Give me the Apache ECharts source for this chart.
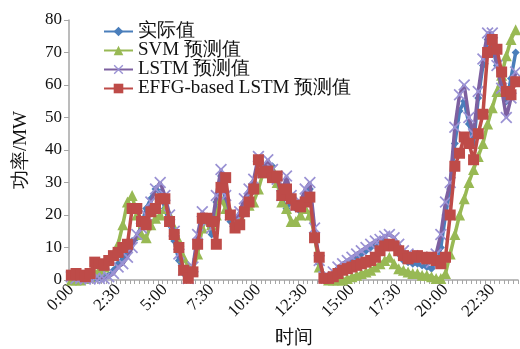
<!DOCTYPE html>
<html>
<head>
<meta charset="utf-8">
<script src="https://cdn.jsdelivr.net/npm/echarts@6/dist/echarts.min.js"></script>
<style>
  html, body { margin: 0; padding: 0; background: #fff; }
  #chart { width: 520px; height: 349px; }
</style>
</head>
<body>
<div id="chart"></div>
<script>
// 15-minute time slots over one day (96 points)
const times = [];
for (let h = 0; h < 24; h++) {
  for (let m = 0; m < 60; m += 15) {
    times.push(h + ':' + (m === 0 ? '00' : String(m)));
  }
}

const seriesNames = ['实际值', 'SVM 预测值', 'LSTM 预测值', 'EFFG-based LSTM 预测值'];

// Measured power (MW)
const actual = [
  0.5, 0.5, 0.3, 0.2, 0.3, 0.5, 0.8, 1, 1.5, 3,
  5, 7, 9, 12, 13, 17, 22, 25, 28, 27,
  22, 17, 12, 6, 2, 0.5, 3, 12, 20, 18,
  14, 24, 32, 24, 18, 17, 20, 24, 27, 30,
  36, 35, 33, 35, 30, 25, 22, 24, 22, 21,
  26, 28, 14, 5, 0.3, 0.5, 1.5, 3, 4, 5,
  6, 7, 8, 9, 10, 11, 12, 12.5, 11.5, 10,
  8, 6, 5.5, 5, 5, 4.5, 4, 3.5, 5, 10,
  20, 28, 42, 52, 55, 48, 42, 56, 66, 74,
  72, 66, 62, 55, 62, 70
];

// SVM forecast (MW)
const svm = [
  0, 0, 0, 0.5, 1, 2, 3, 4, 6, 8,
  11, 17, 24, 26, 20, 14, 13, 17, 19, 20,
  22, 20, 16, 12, 7, 4, 3, 8, 16, 19,
  17, 20, 25, 22, 21, 18, 20, 22, 23, 24,
  28, 33, 35, 34, 30, 24, 22, 18, 18, 20,
  22, 20, 14, 4, 1, 0, 0, 0, 0, 0.5,
  1, 1.5, 2, 2.5, 3, 4, 5, 6, 7, 5,
  3.5, 3, 2.5, 2, 2, 1.5, 1.5, 1, 0.5, 0.5,
  2, 8, 14, 20, 25, 30, 34, 38, 42, 48,
  53, 58, 63, 69, 74, 77
];

// LSTM forecast (MW)
const lstm = [
  1, 0.5, 0.5, 0.3, 0.3, 0.5, 0.5, 0.5, 1, 2,
  4, 5, 7, 10, 14, 16, 20, 24, 28, 30,
  26, 20, 15, 8, 3, 0.5, 4, 14, 21, 18,
  16, 26, 34, 26, 20, 18, 21, 25, 28, 31,
  38, 33, 37, 34, 31, 26, 32, 26, 23, 24,
  28, 30, 16, 6, 1, 1, 2.5, 4, 5, 6,
  7, 8, 9, 10, 11, 12, 12.5, 13.5, 14, 13,
  11, 9, 8, 7.5, 7, 7, 6.5, 5.5, 8, 14,
  24, 30, 47, 57, 60, 50, 45, 58, 68, 76,
  76, 66, 59, 50, 56, 64
];

// EFFG-based LSTM forecast (MW)
const effg = [
  1.5, 2, 1.5, 1, 2, 5.5, 5, 4.5, 6, 7.5,
  8.5, 10, 11, 22, 22, 18, 17, 21, 22, 25,
  25, 18, 14, 10, 3, 0.5, 2.5, 11, 19, 19,
  18, 11, 28.5, 31.5, 20, 16, 17, 21, 24, 28,
  37, 33, 33.5, 31.5, 32, 26, 28, 25, 23, 22.5,
  24, 25.5, 13, 7, 0.5, 0.5, 1, 2, 3, 3.5,
  4, 4.5, 5, 5.5, 6, 7, 9, 10.5, 11, 10.5,
  9, 7.5, 6.5, 7, 7.5, 7, 6.5, 7, 6, 5,
  7, 20, 35, 39, 44, 42, 37, 45, 51, 70,
  74, 71, 64, 58, 57, 61
];

const serif = 'Liberation Serif, Times New Roman, serif';
const crossPath = 'path://M0,1L1,0L5,4L9,0L10,1L6,5L10,9L9,10L5,6L1,10L0,9L4,5Z';

const chart = echarts.init(document.getElementById('chart'), null, { renderer: 'canvas' });

chart.setOption({
  animation: false,
  backgroundColor: '#ffffff',
  textStyle: { fontFamily: serif },
  grid: { left: 69, right: 2, top: 20, bottom: 69, containLabel: false, outerBoundsMode: 'none' },
  legend: {
    orient: 'vertical',
    left: 98,
    top: 17,
    itemWidth: 29,
    itemHeight: 12,
    itemGap: 0,
    textStyle: { fontFamily: serif, fontSize: 19, color: '#111', lineHeight: 19 },
    data: seriesNames
  },
  xAxis: {
    type: 'category',
    data: times,
    boundaryGap: true,
    name: '时间',
    nameLocation: 'middle',
    nameGap: 49,
    nameTextStyle: { fontFamily: serif, fontSize: 19, color: '#111' },
    axisLine: { lineStyle: { color: '#a6a6a6', width: 1.5 } },
    axisTick: { show: true, interval: 0, length: 4, lineStyle: { color: '#a6a6a6' } },
    axisLabel: {
      interval: 9,
      rotate: 45,
      margin: 7,
      fontFamily: serif,
      fontSize: 17,
      color: '#111'
    },
    splitLine: { show: false }
  },
  yAxis: {
    type: 'value',
    min: 0,
    max: 80,
    interval: 10,
    name: '功率/MW',
    nameLocation: 'middle',
    nameGap: 38,
    nameTextStyle: { fontFamily: serif, fontSize: 19, color: '#111' },
    axisLine: { show: true, lineStyle: { color: '#a6a6a6', width: 1.5 } },
    axisTick: { show: true, length: 5, lineStyle: { color: '#a6a6a6' } },
    axisLabel: { margin: 7, fontFamily: serif, fontSize: 17, color: '#111' },
    splitLine: { show: false }
  },
  series: [
    {
      name: seriesNames[0],
      type: 'line',
      data: actual,
      symbol: 'diamond',
      symbolSize: 8,
      showAllSymbol: true,
      lineStyle: { color: '#4a7ebb', width: 3.5 },
      itemStyle: { color: '#4a7ebb' },
      z: 2
    },
    {
      name: seriesNames[1],
      type: 'line',
      data: svm,
      symbol: 'triangle',
      symbolSize: 11,
      showAllSymbol: true,
      lineStyle: { color: '#98b954', width: 3.5 },
      itemStyle: { color: '#98b954' },
      z: 3
    },
    {
      name: seriesNames[2],
      type: 'line',
      data: lstm,
      symbol: crossPath,
      symbolSize: 12,
      showAllSymbol: true,
      lineStyle: { color: '#7d60a0', width: 3.5 },
      itemStyle: { color: '#9a92d4' },
      z: 4
    },
    {
      name: seriesNames[3],
      type: 'line',
      data: effg,
      symbol: 'rect',
      symbolSize: 11,
      showAllSymbol: true,
      lineStyle: { color: '#be4b48', width: 3.5 },
      itemStyle: { color: '#be4b48' },
      z: 5
    }
  ]
});
</script>
</body>
</html>
